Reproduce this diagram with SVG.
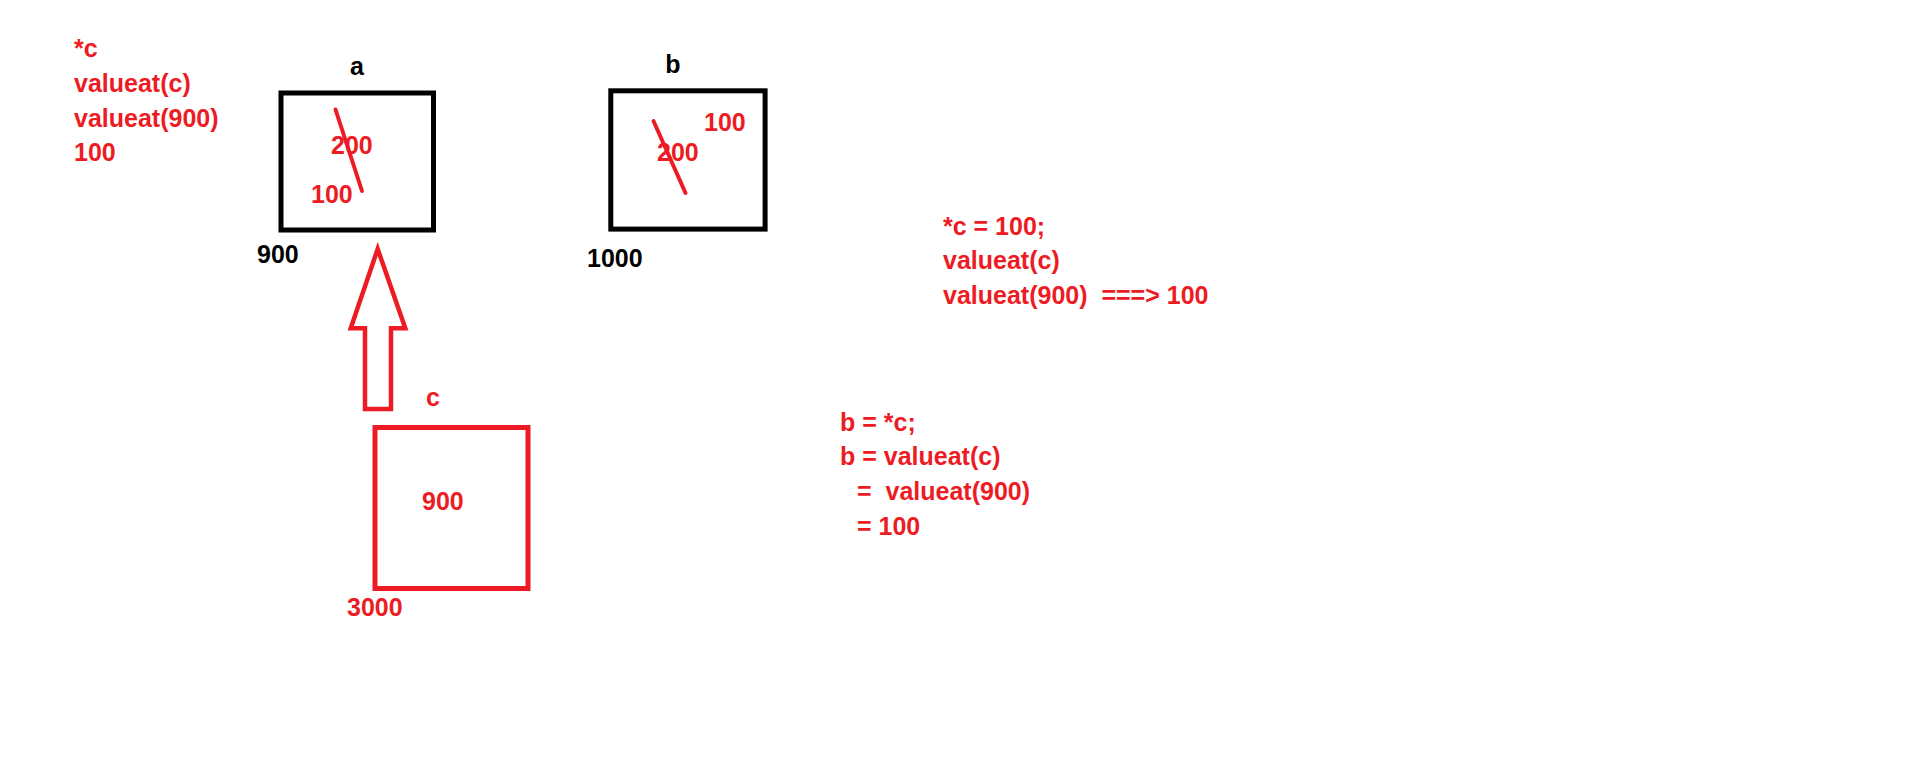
<svg xmlns="http://www.w3.org/2000/svg" width="1910" height="772" viewBox="0 0 1910 772">
<style>
text{font-family:"Liberation Sans",Arial,sans-serif;font-weight:bold;font-size:25px;}
.r{fill:#ED1C24;}
.k{fill:#000;}
.mid{text-anchor:middle;}
.boxk{fill:none;stroke:#000;stroke-width:5;}
.boxr{fill:none;stroke:#ED1C24;stroke-width:5;}
.slash{stroke:#ED1C24;stroke-width:4;stroke-linecap:round;}
</style>
<rect width="1910" height="772" fill="#fff"/>
<g id="notes-left">
<text class="r" x="74" y="57">*c</text>
<text class="r" x="74" y="92">valueat(c)</text>
<text class="r" x="74" y="127">valueat(900)</text>
<text class="r" x="74" y="161">100</text>
</g>
<g id="node-a">
<text class="k mid" x="357" y="75">a</text>
<rect class="boxk" x="281" y="93" width="152.5" height="137"/>
<text class="r" x="331" y="154">200</text>
<text class="r" x="311" y="203">100</text>
<line class="slash" x1="335.5" y1="109.5" x2="362" y2="191"/>
<text class="k" x="257" y="263">900</text>
</g>
<g id="node-b">
<text class="k mid" x="673" y="73">b</text>
<rect class="boxk" x="610.8" y="90.8" width="154.3" height="138.3"/>
<text class="r" x="704" y="131">100</text>
<text class="r" x="657" y="161">200</text>
<line class="slash" x1="653.5" y1="121" x2="685.5" y2="193"/>
<text class="k" x="587" y="267">1000</text>
</g>
<g id="node-c">
<text class="r mid" x="433" y="406">c</text>
<rect class="boxr" x="375" y="427.5" width="153" height="161"/>
<text class="r" x="422" y="510">900</text>
<text class="r" x="347" y="616">3000</text>
</g>
<g id="connectors">
<polygon points="377.7,249 405.3,328.3 391,328.3 391,409 365,409 365,328.3 350.7,328.3" fill="none" stroke="#ED1C24" stroke-width="4.5" stroke-linejoin="miter"/>
</g>
<g id="notes-right">
<text class="r" x="943" y="235">*c = 100;</text>
<text class="r" x="943" y="269">valueat(c)</text>
<text class="r" x="943" y="304" xml:space="preserve">valueat(900)  ===&gt; 100</text>
</g>
<g id="notes-bottom">
<text class="r" x="840" y="431">b = *c;</text>
<text class="r" x="840" y="465">b = valueat(c)</text>
<text class="r" x="857" y="500" xml:space="preserve">=  valueat(900)</text>
<text class="r" x="857" y="535">= 100</text>
</g>
</svg>
